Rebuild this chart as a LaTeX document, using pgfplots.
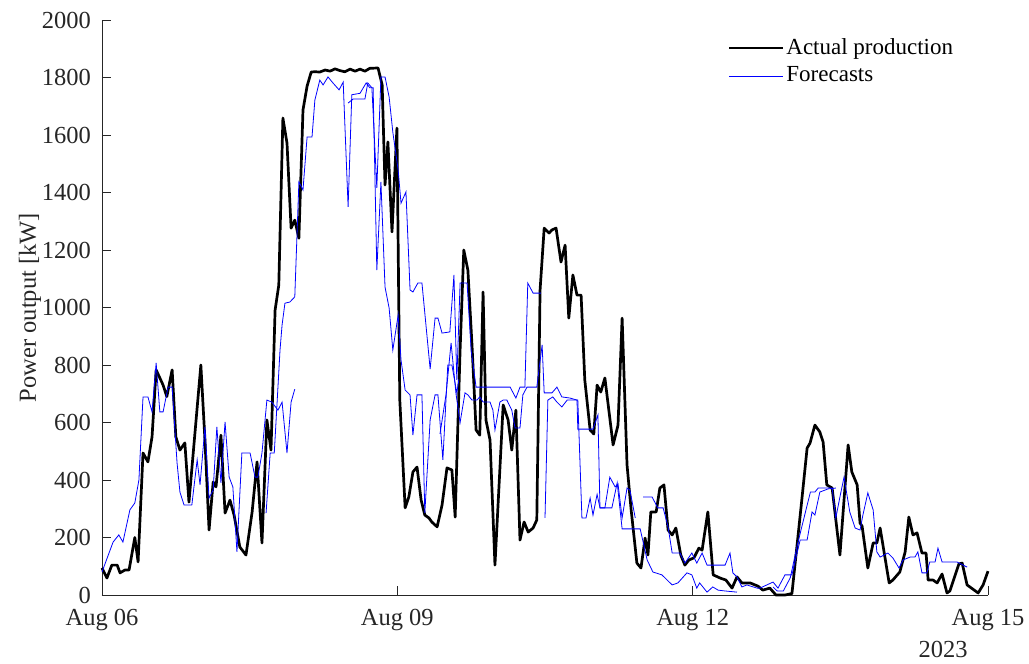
\documentclass[border=0pt]{standalone}
\usepackage{pgfplots}
\pgfplotsset{compat=1.18}
\usepackage{fontspec}
\setmainfont{Liberation Serif}
\definecolor{axgray}{gray}{0.15}
\begin{document}
\fontsize{24.5}{29}\selectfont
\begin{tikzpicture}
\begin{axis}[
  scale only axis, width=886pt, height=575pt,
  xmin=0, xmax=216, ymin=0, ymax=2000,
  axis x line*=bottom, axis y line*=left,
  axis line style={-, axgray, line width=0.6pt},
  every tick/.style={axgray, line width=0.6pt},
  tick align=inside, major tick length=9pt,
  xtick={0,72,144,216},
  xticklabels={Aug 06, Aug 09, Aug 12, Aug 15},
  ytick={0,200,...,2000},
  /pgf/number format/assume math mode=true,
  /pgf/number format/1000 sep={},
  tick label style={text=axgray, font=\fontsize{24.5}{29}\selectfont, inner sep=1pt},
  xticklabel style={yshift=-13pt},
  yticklabel style={xshift=-10pt},
  every axis y label/.style={at={(axis description cs:-0.0813,0.5)}, rotate=90, anchor=center, inner sep=1pt},
  ylabel={Power output [kW]},
  label style={text=axgray, font=\fontsize{24.5}{29}\selectfont},
  legend style={draw=none, fill=none, at={(axis description cs:0.706,0.972)}, anchor=north west,
    inner sep=0pt, row sep=5pt, cells={anchor=west}, font=\fontsize{23}{27}\selectfont},
  legend image code/.code={\draw[#1] (0pt,0pt) -- (54pt,0pt);},
  clip=false,
]
% Actual production
\addplot[black, line width=2.7pt, line join=round] coordinates {
(0.0,94)(1.2,59)(2.4,104)(3.7,104)(4.4,77)(5.6,87)(6.6,87)(8.0,200)(8.8,115)(10.0,494)
(11.2,463)(12.2,550)(13.2,783)(14.9,730)(15.8,690)(17.1,783)(18.0,550)(19.0,504)(20.2,529)(21.2,323)
(24.1,800)(25.1,539)(26.1,226)(27.1,393)(27.8,376)(29.0,556)(30.0,285)(31.2,330)(32.2,278)(33.6,167)
(35.1,139)(36.6,289)(37.8,463)(39.0,181)(40.2,609)(41.2,504)(42.2,991)(43.1,1078)(44.1,1659)(45.1,1572)
(46.1,1276)(47.0,1304)(48.0,1241)(49.0,1687)(50.0,1770)(51.0,1819)(51.9,1820)(53.1,1819)(54.4,1826)(55.6,1822)
(56.8,1830)(58.0,1824)(59.2,1820)(60.5,1829)(61.7,1822)(62.9,1829)(64.1,1822)(65.3,1832)(67.3,1833)(68.3,1774)
(69.0,1426)(69.7,1576)(70.7,1263)(71.9,1624)(72.6,678)(73.9,303)(74.8,341)(75.8,428)(76.8,445)(77.8,330)
(78.7,278)(79.7,268)(80.4,254)(81.7,237)(82.9,313)(84.1,442)(85.3,435)(86.1,271)(87.3,852)(88.2,1200)
(89.2,1130)(90.2,870)(91.2,574)(92.1,556)(92.9,1054)(93.6,609)(94.6,539)(95.8,104)(97.8,661)(99.0,609)
(99.9,504)(100.9,643)(101.9,191)(102.9,254)(103.9,219)(105.1,233)(106.0,261)(106.8,1061)(107.8,1276)(109.0,1259)
(109.7,1270)(110.7,1276)(111.9,1158)(112.9,1217)(113.8,963)(114.8,1113)(115.8,1043)(116.8,1043)(117.7,748)(119.0,574)
(119.9,560)(120.7,730)(121.6,706)(122.6,755)(124.6,522)(125.8,591)(126.8,963)(128.0,452)(129.0,296)(130.4,111)
(131.4,94)(132.4,198)(133.1,139)(133.8,289)(135.1,289)(136.0,372)(137.0,383)(138.0,226)(139.0,209)(139.9,233)
(141.1,139)(142.1,104)(143.1,122)(144.3,129)(145.5,163)(146.3,156)(147.7,289)(149.0,70)(150.7,59)(152.1,52)
(153.6,24)(154.8,63)(156.0,42)(158.0,42)(159.9,31)(161.1,17)(162.8,24)(164.3,0)(166.5,0)(168.2,5)
(169.4,167)(170.6,330)(171.9,511)(172.6,528)(173.8,591)(175.0,567)(175.8,532)(176.7,383)(178.0,372)(179.9,139)
(181.9,522)(182.8,428)(184.1,383)(184.8,250)(185.3,240)(186.7,94)(188.0,181)(188.9,181)(189.7,233)(191.9,42)
(192.8,52)(194.5,80)(195.8,150)(196.7,271)(197.7,209)(198.7,216)(199.9,146)(200.9,146)(201.4,52)(202.6,52)
(203.6,42)(204.8,73)(206.0,7)(206.7,14)(208.9,108)(209.7,111)(210.9,35)(213.6,7)(214.8,35)(216.0,83)
};
\addlegendentry{Actual production}
% Forecast A
\addplot[blue, line width=0.8pt] coordinates {
(0,80)(2.7,184)(4.1,209)(5.1,184)(6.8,296)(8.0,320)(9.0,400)(10.0,689)(11.2,689)(12.2,637)
(13.2,807)(14.1,637)(14.9,637)(16.1,723)(17.1,723)(18.3,459)(19.0,358)(20.0,313)(21.9,313)(23.2,470)
(23.9,383)(25.1,585)(26.1,337)(27.1,365)(28.0,585)(29.0,390)(30.0,602)(31.0,410)(31.9,376)(32.9,150)
(34.1,494)(36.1,494)(37.3,410)(38.0,410)(39.0,494)(40.2,678)(41.4,671)(42.9,643)(43.9,671)(45.1,494)
(46.1,671)(47.0,716)
};
\addlegendentry{Forecasts}
% Forecast B
\addplot[blue, line width=0.8pt, forget plot] coordinates {
(40.0,285)(41.0,494)(42.0,494)(43.4,852)(43.9,939)(44.6,1015)(45.8,1019)(47.0,1037)(48.0,1437)(49.0,1409)
(50.0,1593)(51.2,1593)(51.9,1722)(53.1,1791)(53.9,1774)(55.1,1802)(56.3,1781)(57.8,1757)(58.8,1784)(60.0,1350)
(60.9,1740)(62.9,1745)(64.4,1781)(65.3,1764)(66.1,1764)(67.0,1130)(68.0,1437)(69.0,1071)(70.0,998)(70.9,852)
(72.2,974)(72.9,817)(73.9,713)(75.1,696)(75.8,556)(76.8,696)(78.0,696)(78.7,285)(80.0,609)(81.2,696)
(81.9,696)(83.1,470)(84.3,800)(85.3,800)(86.5,703)(87.0,750)
};
% Forecast C
\addplot[blue, line width=0.8pt, forget plot] coordinates {
(60.0,1711)(61.2,1725)(64.1,1725)(64.8,1781)(65.8,1764)(67.0,1416)(68.0,1802)(69.0,1802)(70.0,1732)(70.9,1610)
(72.2,1478)(72.9,1363)(74.1,1402)(75.1,1061)(75.8,1054)(77.0,1085)(78.0,1085)(80.0,786)(81.2,963)(81.9,963)
(82.9,911)(84.8,915)(85.8,1113)(86.5,748)(87.3,1085)(89.0,1085)(90.0,850)(91.2,723)(93.9,723)(99.5,723)
(100.9,685)(101.9,723)(103.1,723)(103.8,1085)(105.1,1050)(107.0,1050)
};
% Forecast D
\addplot[blue, line width=0.8pt, forget plot] coordinates {
(82.4,560)(83.9,700)(85.1,877)(86.3,700)(87.3,600)(88.5,703)(89.2,696)(90.2,678)(91.4,678)(92.1,689)
(92.9,671)(94.6,671)(95.3,643)(95.8,574)(97.0,671)(97.8,678)(98.7,678)(99.9,643)(100.7,581)(101.9,581)
(102.6,696)(103.6,723)(106.0,723)(107.3,870)(107.8,703)(109.7,703)(110.9,723)(112.1,689)(114.1,685)(115.8,678)
(116.0,577)(119.7,577)(120.9,626)(121.4,303)(122.6,303)(123.8,410)(125.1,376)(125.8,386)(126.8,268)(128.0,372)
(128.7,365)(130.0,268)
};
% Forecast E
\addplot[blue, line width=0.8pt, forget plot] coordinates {
(108.0,268)(108.7,678)(109.9,689)(110.9,671)(112.1,654)(113.4,678)(116.0,678)(117.0,268)(118.0,268)(119.0,337)
(119.7,278)(120.7,350)(121.4,303)(124.3,303)(125.6,390)(126.8,230)(131.2,230)(132.9,122)(134.3,80)(136.5,70)
(139.0,35)(140.4,42)(142.6,77)(143.8,70)(145.0,24)(145.7,42)(147.5,10)(148.9,28)(150.2,17)(151.9,14)
(154.8,10)
};
% Forecast F
\addplot[blue, line width=0.8pt, forget plot] coordinates {
(131.9,341)(134.1,341)(135.5,303)(136.8,303)(138.0,237)(139.0,146)(140.9,146)(142.1,111)(143.8,146)(145.0,111)
(146.3,146)(147.5,104)(151.9,104)(153.1,146)(153.8,77)(154.8,63)(156.0,28)(157.2,35)(159.7,24)(160.4,24)
(163.6,45)(164.8,24)(166.5,70)(168.2,70)(170.2,191)(171.9,191)(173.1,289)(173.8,278)(175.0,358)(177.0,369)
(178.9,372)
};
% Forecast G
\addplot[blue, line width=0.8pt, forget plot] coordinates {
(163.6,28)(164.6,14)(166.1,14)(167.8,60)(169.4,167)(170.6,237)(172.7,358)(173.8,358)(174.6,372)(178.0,372)
(178.9,268)(179.9,341)(180.9,410)(182.3,289)(183.6,233)(184.8,226)(185.5,278)(186.7,355)(188.0,296)(188.9,150)
(189.7,132)(191.6,146)(192.8,129)(194.3,94)(195.3,122)(197.0,132)(198.2,132)(198.9,150)(199.9,77)(201.1,77)
(201.8,115)(203.1,115)(203.8,163)(204.8,115)(208.4,115)(210.9,97)
};
\node[text=axgray, anchor=center, inner sep=1pt, font=\fontsize{24.5}{29}\selectfont] at ([shift={(-45pt,-54pt)}]rel axis cs:1,0) {2023};
\end{axis}
\path ([shift={(-102pt,-68pt)}]current axis.south west) rectangle ([shift={(41pt,20pt)}]current axis.north east);
\end{tikzpicture}
\end{document}
